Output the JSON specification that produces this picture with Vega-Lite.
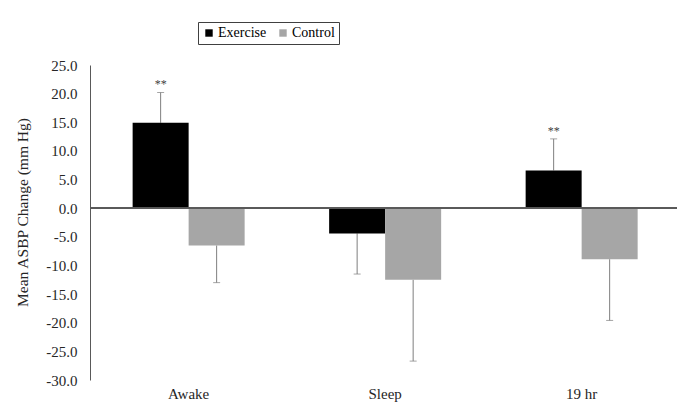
{
  "$schema": "https://vega.github.io/schema/vega-lite/v6.json",
  "width": 587,
  "height": 315,
  "autosize": "none",
  "padding": {"left": 90, "top": 65, "right": 0, "bottom": 27},
  "config": {
    "view": {"stroke": null},
    "font": "Liberation Serif",
    "axis": {"labelFont": "Liberation Serif", "titleFont": "Liberation Serif", "labelColor": "#262626", "titleColor": "#262626", "grid": false},
    "axisY": {"labelOverlap": false, "tickSize": 0, "labelPadding": 13, "labelFontSize": 15, "domainColor": "#595959", "titleFontSize": 15.5, "titleFontWeight": "normal", "labelFont": "Liberation Serif", "titleFont": "Liberation Serif"}
  },
  "data": {
    "values": [
      {"cat": "Awake", "series": "Exercise", "value": 14.9, "err_end": 20.2, "sig": "**"},
      {"cat": "Awake", "series": "Control", "value": -6.5, "err_end": -13.0, "sig": ""},
      {"cat": "Sleep", "series": "Exercise", "value": -4.4, "err_end": -11.5, "sig": ""},
      {"cat": "Sleep", "series": "Control", "value": -12.5, "err_end": -26.7, "sig": ""},
      {"cat": "19 hr", "series": "Exercise", "value": 6.6, "err_end": 12.1, "sig": "**"},
      {"cat": "19 hr", "series": "Control", "value": -8.9, "err_end": -19.6, "sig": ""}
    ]
  },
  "encoding": {
    "x": {
      "field": "cat", "type": "nominal", "sort": ["Awake", "Sleep", "19 hr"],
      "scale": {"paddingInner": 0.43, "paddingOuter": 0.2086, "align": 0.52},
      "axis": {"title": null, "labelAngle": 0, "domain": false, "ticks": false, "labelPadding": 6, "labelFontSize": 15}
    },
    "xOffset": {"field": "series", "type": "nominal", "sort": ["Exercise", "Control"], "scale": {"paddingInner": 0, "paddingOuter": 0}}
  },
  "layer": [
    {
      "mark": {"type": "rule", "color": "#7f7f7f", "strokeWidth": 1},
      "encoding": {
        "y": {
          "field": "value", "type": "quantitative",
          "scale": {"domain": [-30, 25], "nice": false, "zero": false},
          "axis": {"values": [-30, -25, -20, -15, -10, -5, 0, 5, 10, 15, 20, 25], "labelExpr": "replace(format(datum.value, '.1f'), '\u2212', '-')", "title": "Mean ASBP Change (mm Hg)", "titleAngle": -90, "titleX": -68, "titleY": 147, "titleAlign": "center", "titleBaseline": "middle"}
        },
        "y2": {"field": "err_end"}
      }
    },
    {
      "mark": {"type": "tick", "orient": "horizontal", "size": 7, "thickness": 1, "color": "#7f7f7f"},
      "encoding": {
        "y": {"field": "err_end", "type": "quantitative",
          "axis": {"values": [-30, -25, -20, -15, -10, -5, 0, 5, 10, 15, 20, 25], "labelExpr": "replace(format(datum.value, '.1f'), '\u2212', '-')", "title": "Mean ASBP Change (mm Hg)", "titleAngle": -90, "titleX": -68, "titleY": 147, "titleAlign": "center", "titleBaseline": "middle"}}
      }
    },
    {
      "mark": {"type": "bar"},
      "encoding": {
        "y": {"field": "value", "type": "quantitative",
          "axis": {"values": [-30, -25, -20, -15, -10, -5, 0, 5, 10, 15, 20, 25], "labelExpr": "replace(format(datum.value, '.1f'), '\u2212', '-')", "title": "Mean ASBP Change (mm Hg)", "titleAngle": -90, "titleX": -68, "titleY": 147, "titleAlign": "center", "titleBaseline": "middle"}},
        "color": {
          "field": "series", "type": "nominal",
          "scale": {"domain": ["Exercise", "Control"], "range": ["#000000", "#a6a6a6"]},
          "legend": {
            "orient": "none", "legendX": 108, "legendY": -43, "direction": "horizontal",
            "title": null, "symbolType": "square", "symbolSize": 55, "symbolStrokeWidth": 0,
            "labelFont": "Liberation Serif", "labelFontSize": 14, "labelColor": "#000000",
            "strokeColor": "#404040", "padding": 4, "columnPadding": 9, "labelOffset": 2
          }
        }
      }
    },
    {
      "mark": {"type": "rule", "color": "#595959", "strokeWidth": 1.5},
      "encoding": {"y": {"datum": 0, "type": "quantitative",
          "axis": {"values": [-30, -25, -20, -15, -10, -5, 0, 5, 10, 15, 20, 25], "labelExpr": "replace(format(datum.value, '.1f'), '\u2212', '-')", "title": "Mean ASBP Change (mm Hg)", "titleAngle": -90, "titleX": -68, "titleY": 147, "titleAlign": "center", "titleBaseline": "middle"}}, "x": null, "xOffset": null}
    },
    {
      "mark": {"type": "text", "dy": -8, "fontSize": 12, "color": "#404040"},
      "encoding": {
        "y": {"field": "err_end", "type": "quantitative",
          "axis": {"values": [-30, -25, -20, -15, -10, -5, 0, 5, 10, 15, 20, 25], "labelExpr": "replace(format(datum.value, '.1f'), '\u2212', '-')", "title": "Mean ASBP Change (mm Hg)", "titleAngle": -90, "titleX": -68, "titleY": 147, "titleAlign": "center", "titleBaseline": "middle"}},
        "text": {"field": "sig"}
      }
    }
  ]
}
